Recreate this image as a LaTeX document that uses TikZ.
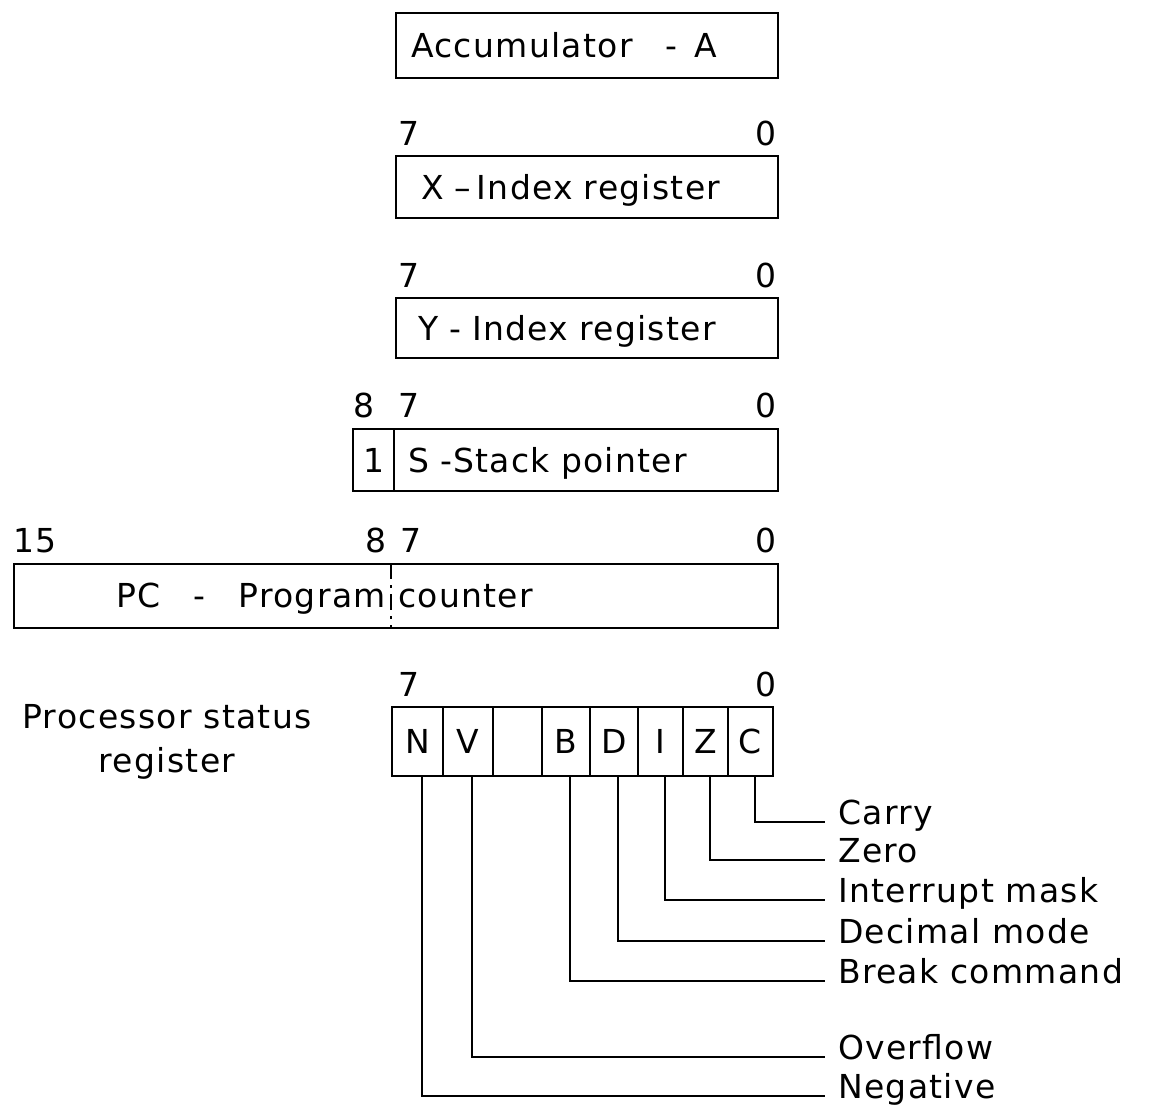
\documentclass[tikz,border=0pt]{standalone}
\usepackage{fontspec}
\setmainfont{DejaVu Sans}[LetterSpace=4]
\begin{document}
\begin{tikzpicture}[x=1pt,y=-1pt,
  every node/.style={font=\fontsize{33}{44}\selectfont, inner sep=0pt},
  reg/.style={draw, line width=2.4pt, anchor=north west, align=left, text height=24pt, text depth=0pt},
  cell/.style={draw, line width=2.4pt, text height=24pt, text depth=0pt, minimum height=69pt},
  bitno/.style={anchor=base west},
  bitnor/.style={anchor=base east},
  flag/.style={anchor=mid west},
  wire/.style={line width=2pt}]
\useasboundingbox (0,0) rectangle (1150,1117);

% registers
\node[reg, inner xsep=15pt, text width=352pt, minimum height=65pt] (acc) at (395,12) {Accumulator\quad-\enspace A};
\node[reg, inner xsep=25pt, text width=332pt, minimum height=62pt] (xreg) at (395,155) {X –\,Index register};
\node[reg, inner xsep=22pt, text width=338pt, minimum height=60pt] (yreg) at (395,297) {Y - Index register};
\node[reg, inner xsep=0pt, text width=41pt, align=center, minimum height=62pt] (sone) at (352,428) {1};
\node[reg, inner xsep=14pt, text width=356pt, minimum height=62pt] (sreg) at (393,428) {S -Stack pointer};
\node[reg, inner xsep=0pt, text width=764pt, minimum height=64pt] (pc) at (13,563) {};
\node[anchor=east, text height=24pt, text depth=0pt] (pchi) at (386,595) {PC\quad-\quad Program};
\node[anchor=west, text height=24pt, text depth=0pt] (pclo) at (398,595) {counter};
\draw[line width=1.6pt, dash pattern=on 16pt off 6pt on 3pt off 6pt] ([xshift=378pt]pc.north west) -- ([xshift=378pt]pc.south west);

% bit numbers
\node[bitno] (x7) at (398,145) {7}; \node[bitnor] (x0) at (777,145) {0};
\node[bitno] (y7) at (398,287) {7}; \node[bitnor] (y0) at (777,287) {0};
\node[bitno] (s8) at (353,417) {8}; \node[bitno] (s7) at (398,417) {7}; \node[bitnor] (s0) at (777,417) {0};
\node[bitno] (p15) at (13,552) {15}; \node[bitnor] (p8) at (387,552) {8};
\node[bitno] (p7) at (400,552) {7}; \node[bitnor] (p0) at (777,552) {0};
\node[bitno] (f7) at (398,696) {7}; \node[bitnor] (f0) at (777,696) {0};

% status register
\node[align=center, anchor=base] (psr) at (167,772) {Processor status\\register};
\foreach \nm/\xl/\xr/\txt in {fn/392/443/N, fv/443/493/V, fu/493/542/{}, fb/542/590/B, fd/590/638/D, fi/638/683/I, fz/683/728/Z, fc/728/773/C}{
  \pgfmathsetmacro\cellw{\xr-\xl}
  \node[cell, minimum width=\cellw pt] (\nm) at ({(\xl+\xr)/2},741.5) {\txt};
}
\foreach \nm/\yy/\txt in {fc/822/Carry, fz/860/Zero, fi/900/Interrupt mask, fd/941/Decimal mode, fb/981/Break command, fv/1057/Overflow, fn/1096/Negative}{
  \node[flag] (l\nm) at (838,\yy) {\txt};
  \draw[wire] ([xshift=4pt]\nm.south) |- ([xshift=-13pt]l\nm.mid west);
}
\end{tikzpicture}
\end{document}
